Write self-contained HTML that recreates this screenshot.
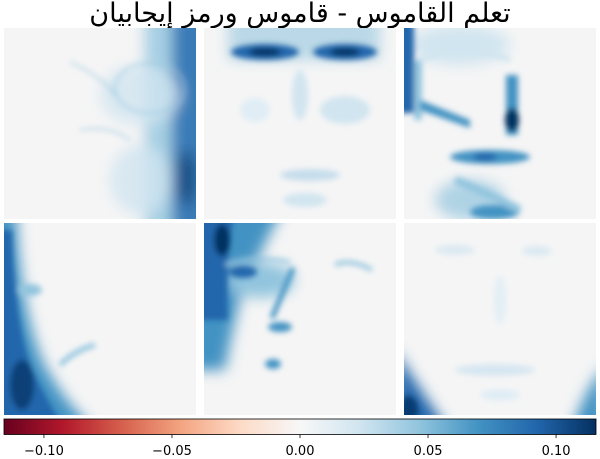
<!DOCTYPE html>
<html><head><meta charset="utf-8">
<style>
html,body{margin:0;padding:0;background:#fff;}
svg{display:block;font-family:"DejaVu Sans","Liberation Sans","Noto Sans CJK SC",sans-serif;}
</style></head>
<body>
<svg id="chart" width="600" height="459" viewBox="0 0 600 459">
<defs>
  <filter id="b1" x="-50%" y="-50%" width="200%" height="200%"><feGaussianBlur stdDeviation="3"/></filter>
  <filter id="b2" x="-50%" y="-50%" width="200%" height="200%"><feGaussianBlur stdDeviation="7"/></filter>
  <clipPath id="c1"><rect x="4" y="28" width="192" height="191"/></clipPath>
  <clipPath id="c2"><rect x="204" y="28" width="192" height="191"/></clipPath>
  <clipPath id="c3"><rect x="404" y="28" width="192" height="191"/></clipPath>
  <clipPath id="c4"><rect x="4" y="223" width="192" height="192"/></clipPath>
  <clipPath id="c5"><rect x="204" y="223" width="192" height="192"/></clipPath>
  <clipPath id="c6"><rect x="404" y="223" width="192" height="192"/></clipPath>
  <linearGradient id="rdbu" x1="0" x2="1" y1="0" y2="0">
    <stop offset="0" stop-color="#67001f"/><stop offset="0.1" stop-color="#b2182b"/>
    <stop offset="0.2" stop-color="#d6604d"/><stop offset="0.3" stop-color="#f4a582"/>
    <stop offset="0.4" stop-color="#fddbc7"/><stop offset="0.5" stop-color="#f7f7f7"/>
    <stop offset="0.6" stop-color="#d1e5f0"/><stop offset="0.7" stop-color="#92c5de"/>
    <stop offset="0.8" stop-color="#4393c3"/><stop offset="0.9" stop-color="#2166ac"/>
    <stop offset="1" stop-color="#053061"/>
  </linearGradient>
</defs>

<text x="300" y="22" text-anchor="middle" font-size="27" fill="#000">تعلم القاموس - قاموس ورمز إيجابيان</text>

<!-- Panel 1 -->
<g clip-path="url(#c1)">
  <rect x="4" y="28" width="192" height="191" fill="#f5f5f5"/>
  <g filter="url(#b2)">
    <rect x="145" y="0" width="70" height="250" fill="#92c5de" opacity="0.8"/>
    <rect x="172" y="0" width="40" height="250" fill="#2166ac" opacity="0.8"/>
    <ellipse cx="186" cy="178" rx="10" ry="28" fill="#053061" opacity="0.6"/>
    <ellipse cx="140" cy="95" rx="40" ry="30" fill="#d1e5f0" opacity="0.8"/>
    <ellipse cx="140" cy="180" rx="30" ry="35" fill="#d1e5f0" opacity="0.8"/>
  </g>
  <g filter="url(#b1)" fill="none" stroke="#92c5de" stroke-width="2" opacity="0.7">
    <ellipse cx="150" cy="88" rx="35" ry="25"/>
    <path d="M70 62 Q100 75 115 95"/>
    <path d="M80 130 Q110 125 130 140"/>
  </g>
</g>

<!-- Panel 2 -->
<g clip-path="url(#c2)">
  <rect x="204" y="28" width="192" height="191" fill="#f5f5f5"/>
  <g filter="url(#b2)">
    <rect x="228" y="10" width="152" height="50" fill="#92c5de" opacity="0.6"/>
  </g>
  <g filter="url(#b1)">
    <ellipse cx="265" cy="52" rx="34" ry="8" fill="#2166ac"/>
    <ellipse cx="345" cy="52" rx="32" ry="8" fill="#2166ac"/>
    <ellipse cx="265" cy="52" rx="16" ry="4" fill="#053061"/>
    <ellipse cx="345" cy="52" rx="15" ry="4" fill="#053061"/>
    <ellipse cx="345" cy="110" rx="25" ry="14" fill="#d1e5f0"/>
    <ellipse cx="255" cy="110" rx="15" ry="12" fill="#e0edf5"/>
    <ellipse cx="300" cy="95" rx="8" ry="25" fill="#d1e5f0"/>
    <ellipse cx="310" cy="175" rx="30" ry="6" fill="#c6ddec"/>
    <ellipse cx="305" cy="200" rx="22" ry="7" fill="#d1e5f0"/>
  </g>
</g>

<!-- Panel 3 -->
<g clip-path="url(#c3)">
  <rect x="404" y="28" width="192" height="191" fill="#f5f5f5"/>
  <g filter="url(#b2)">
    <ellipse cx="460" cy="45" rx="50" ry="20" fill="#d1e5f0"/>
    <ellipse cx="470" cy="200" rx="35" ry="20" fill="#92c5de" opacity="0.7"/>
  </g>
  <g filter="url(#b1)">
    <rect x="398" y="10" width="16" height="103" fill="#2166ac"/>
    <rect x="414" y="60" width="8" height="60" fill="#92c5de"/>
    <rect x="506" y="75" width="12" height="60" fill="#4393c3"/>
    <ellipse cx="512" cy="120" rx="7" ry="12" fill="#053061"/>
    <path d="M420 100 L470 120 L470 128 L420 110Z" fill="#4393c3"/>
    <ellipse cx="490" cy="157" rx="40" ry="7" fill="#4393c3"/>
    <ellipse cx="485" cy="157" rx="12" ry="4" fill="#2166ac"/>
    <ellipse cx="495" cy="212" rx="25" ry="7" fill="#4393c3"/>
    <path d="M455 180 Q480 190 520 210" stroke="#92c5de" stroke-width="8" fill="none"/>
    <path d="M420 60 Q460 40 510 60" stroke="#d1e5f0" stroke-width="6" fill="none"/>
  </g>
</g>

<!-- Panel 4 -->
<g clip-path="url(#c4)">
  <rect x="4" y="223" width="192" height="192" fill="#f5f5f5"/>
  <g filter="url(#b2)">
    <path d="M-10 200 L16 200 Q18 300 42 360 Q62 400 95 430 L-10 430Z" fill="#4393c3"/>
  </g>
  <g filter="url(#b1)">
    <path d="M-5 230 L12 230 Q14 320 32 370 Q47 400 62 425 L-5 425Z" fill="#2166ac"/>
    <ellipse cx="22" cy="385" rx="12" ry="25" fill="#053061" opacity="0.7"/>
    <ellipse cx="30" cy="290" rx="12" ry="6" fill="#92c5de"/>
    <path d="M60 365 Q75 350 95 345" stroke="#92c5de" stroke-width="5" fill="none"/>
  </g>
</g>

<!-- Panel 5 -->
<g clip-path="url(#c5)">
  <rect x="204" y="223" width="192" height="192" fill="#f5f5f5"/>
  <g filter="url(#b2)">
    <path d="M190 205 L285 205 Q260 250 240 300 Q230 340 225 370 L190 370Z" fill="#4393c3"/>
    <ellipse cx="260" cy="280" rx="35" ry="18" fill="#92c5de"/>
  </g>
  <g filter="url(#b1)">
    <path d="M195 210 L235 210 Q225 260 228 320 L195 320Z" fill="#2166ac"/>
    <ellipse cx="222" cy="240" rx="8" ry="16" fill="#053061"/>
    <ellipse cx="243" cy="272" rx="14" ry="6" fill="#2166ac"/>
    <path d="M293 268 L272 318" stroke="#4393c3" stroke-width="5" fill="none"/>
    <ellipse cx="280" cy="327" rx="12" ry="5" fill="#4393c3"/>
    <ellipse cx="273" cy="364" rx="8" ry="5" fill="#4393c3"/>
    <path d="M335 265 Q350 258 372 270" stroke="#92c5de" stroke-width="4" fill="none"/>
    <path d="M225 265 Q250 255 290 262" stroke="#92c5de" stroke-width="3" fill="none"/>
  </g>
</g>

<!-- Panel 6 -->
<g clip-path="url(#c6)">
  <rect x="404" y="223" width="192" height="192" fill="#f5f5f5"/>
  <g filter="url(#b2)">
    <path d="M395 350 Q420 390 448 430 L395 430Z" fill="#2166ac"/>
    <path d="M605 365 Q582 395 572 430 L605 430Z" fill="#4393c3"/>
  </g>
  <g filter="url(#b1)">
    <ellipse cx="408" cy="410" rx="10" ry="14" fill="#053061" opacity="0.8"/>
    <ellipse cx="455" cy="250" rx="20" ry="5" fill="#dbe9f2"/>
    <ellipse cx="537" cy="251" rx="15" ry="5" fill="#dbe9f2"/>
    <ellipse cx="495" cy="370" rx="40" ry="6" fill="#d6e6f1"/>
    <ellipse cx="500" cy="395" rx="20" ry="6" fill="#e0edf5"/>
    <ellipse cx="500" cy="300" rx="6" ry="25" fill="#e3eef5"/>
  </g>
</g>

<!-- Colorbar -->
<g id="colorbar">
  <rect x="4" y="419" width="592" height="15.5" fill="url(#rdbu)" stroke="#000" stroke-width="0.8"/>
  <g id="cbticks"></g>
</g>

<script>
const tickValues = [-0.10, -0.05, 0.00, 0.05, 0.10];
const tickLabels = ["\u22120.10", "\u22120.05", "0.00", "0.05", "0.10"];
const colorRange = [-0.1156, 0.1156];
(function(){
  const x0 = 4, x1 = 596;
  const sx = v => x0 + (v - colorRange[0]) / (colorRange[1] - colorRange[0]) * (x1 - x0);
  const g = document.getElementById('cbticks');
  const ns = 'http://www.w3.org/2000/svg';
  tickValues.forEach((v, i) => {
    const x = sx(v);
    const l = document.createElementNS(ns, 'line');
    l.setAttribute('x1', x); l.setAttribute('x2', x);
    l.setAttribute('y1', 434.5); l.setAttribute('y2', 438);
    l.setAttribute('stroke', '#000'); l.setAttribute('stroke-width', '0.8');
    
    
    g.appendChild(l);
    const t = document.createElementNS(ns, 'text');
    t.setAttribute('x', x); t.setAttribute('y', 455);
    t.setAttribute('text-anchor', 'middle'); t.setAttribute('font-size', '13');
    t.setAttribute('fill', '#000');
    t.textContent = tickLabels[i];
    
    
    g.appendChild(t);
  });
})();
</script>
</svg>
</body></html>
